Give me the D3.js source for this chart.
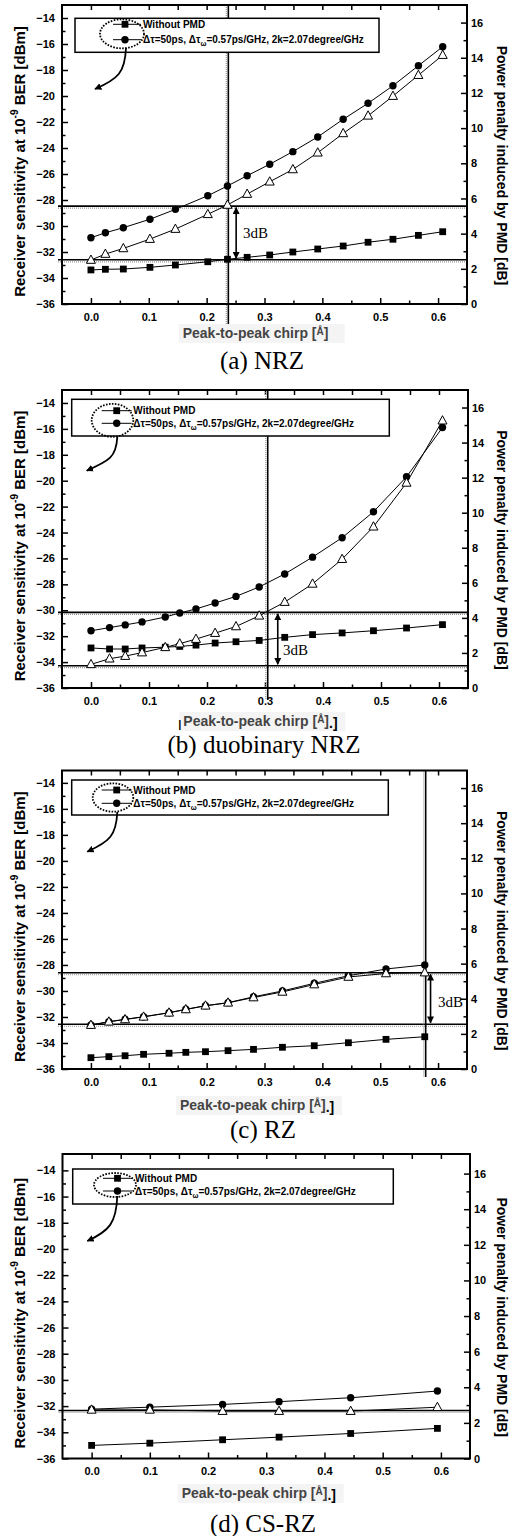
<!DOCTYPE html>
<html>
<head>
<meta charset="utf-8">
<script src="https://cdn.jsdelivr.net/npm/d3@7"></script>
<style>
    body { margin: 0; background: #fff; }
    svg { display: block; }
</style>
</head>
<body>
<svg id="chart" width="512" height="1536"></svg>
<script>
"use strict"

// ---- data ----
// (a) NRZ
const chirpA = [0, 0.025, 0.056, 0.102, 0.146, 0.202, 0.236, 0.270, 0.309, 0.349, 0.392, 0.436, 0.479, 0.522, 0.566, 0.608]
const noPmdA = [-33.38, -33.33, -33.31, -33.18, -33.0, -32.75, -32.56, -32.41, -32.23, -32.0, -31.77, -31.54, -31.25, -31.02, -30.72, -30.44]
const pmdA = [-30.9, -30.52, -30.13, -29.48, -28.72, -27.67, -26.92, -26.13, -25.25, -24.28, -23.15, -21.79, -20.56, -19.21, -17.67, -16.21]
const penaltyA = [2.5, 2.84, 3.16, 3.69, 4.26, 5.1, 5.63, 6.25, 6.95, 7.65, 8.6, 9.7, 10.7, 11.82, 13.01, 14.15]
const levelsA = [-28.47, -32.6]
const markA = 0.2375
const arrowA = { chirp: 0.251, from: -28.47, to: -32.6 }

// (b) duobinary NRZ
const chirpB = [0, 0.032, 0.059, 0.088, 0.128, 0.153, 0.181, 0.214, 0.250, 0.290, 0.334, 0.382, 0.433, 0.487, 0.544, 0.606]
const noPmdB = [-32.91, -32.99, -32.99, -32.91, -32.85, -32.79, -32.69, -32.53, -32.43, -32.33, -32.09, -31.88, -31.75, -31.58, -31.37, -31.11]
const pmdB = [-31.58, -31.34, -31.13, -30.9, -30.52, -30.21, -29.9, -29.44, -28.93, -28.2, -27.2, -25.9, -24.4, -22.4, -19.7, -15.9]
const penaltyB = [1.35, 1.67, 1.82, 2.02, 2.32, 2.53, 2.79, 3.13, 3.51, 4.12, 4.9, 5.94, 7.35, 9.2, 11.7, 15.25]
const levelsB = [-30.16, -34.28]
const markB = 0.3047
const arrowB = { chirp: 0.322, from: -30.16, to: -34.28 }

// (c) RZ
const chirpC = [0, 0.031, 0.059, 0.091, 0.135, 0.164, 0.198, 0.237, 0.281, 0.331, 0.386, 0.445, 0.510, 0.577]
const noPmdC = [-35.13, -35.05, -34.98, -34.87, -34.79, -34.72, -34.67, -34.59, -34.49, -34.33, -34.21, -33.98, -33.72, -33.52]
const pmdC = [-32.62, -32.36, -32.18, -31.98, -31.67, -31.41, -31.13, -30.9, -30.45, -30.0, -29.41, -28.83, -28.31, -28.0]
const penaltyC = [2.5, 2.69, 2.82, 2.97, 3.2, 3.39, 3.6, 3.77, 4.07, 4.39, 4.81, 5.24, 5.44, 5.49]
const levelsC = [-28.6, -32.56]
const markC = 0.5786
const arrowC = { chirp: 0.587, from: -28.6, to: -32.56 }

// (d) CS-RZ
const chirpD = [0, 0.10, 0.225, 0.322, 0.445, 0.594]
const noPmdD = [-35.0, -34.83, -34.57, -34.37, -34.09, -33.7]
const pmdD = [-32.23, -32.08, -31.87, -31.66, -31.36, -30.85]
const penaltyD = [2.73, 2.73, 2.66, 2.66, 2.66, 2.88]
const levelsD = [-32.33]

// ---- axes ----
const chirpDomain = [-0.05, 0.65]
const chirpTicks = [0, 0.1, 0.2, 0.3, 0.4, 0.5, 0.6]
const chirpMinor = [0.05, 0.15, 0.25, 0.35, 0.45, 0.55]
const sensTicks = [-36, -34, -32, -30, -28, -26, -24, -22, -20, -18, -16, -14]
const sensMinor = [-35, -33, -31, -29, -27, -25, -23, -21, -19, -17, -15]
const penaltyTicks = [0, 2, 4, 6, 8, 10, 12, 14, 16]
const penaltyMinor = [1, 3, 5, 7, 9, 11, 13, 15]

const legendLabels = ["Without PMD", "Δτ=50ps, Δτ", "ω", "=0.57ps/GHz, 2k=2.07degree/GHz"]
const yTitle = ["Receiver sensitivity at 10", "-9", " BER [dBm]"]
const rTitle = "Power penalty induced by PMD [dB]"
const xTitle = ["Peak-to-peak chirp [", "Å", "]"]

const SANS = '"Liberation Sans", Arial, sans-serif'
const SERIF = '"Liberation Serif", "Times New Roman", serif'

const panels = [
    {
        caption: "(a) NRZ", chirp: chirpA, noPmd: noPmdA, pmd: pmdA, penalty: penaltyA,
        levels: levelsA, mark: markA, arrow: arrowA, tail: "",
        box: { top: 5, bottom: 304, left: 62, right: 467, yTop: -13, pTop: 17 },
        legend: { x: 75, y: 18.3, w: 304, h: 34, l0: 113, l1: 141, m: 125, r1: 24.3, r2: 39.7, tx: 143 },
        ring: { cx: 122, cy: 33.8, rx: 22, ry: 14.5 }, curl: [[126, 48], [95, 89]],
        drop: 28, xlab: { x: 182.7, y: 338 }, cap: { x: 262, y: 369 }, db: { x: 243, y: 238 }
    },
    {
        caption: "(b) duobinary NRZ", chirp: chirpB, noPmd: noPmdB, pmd: pmdB, penalty: penaltyB,
        levels: levelsB, mark: markB, arrow: arrowB, tail: ".]", lead: true,
        box: { top: 390, bottom: 688, left: 62, right: 468, yTop: -13, pTop: 17 },
        legend: { x: 71.7, y: 399.3, w: 317.6, h: 36.7, l0: 101.7, l1: 131.7, m: 116.7, r1: 410.7, r2: 423.3, tx: 133.3 },
        ring: { cx: 112.5, cy: 420.3, rx: 20.8, ry: 16.5 }, curl: [[117.3, 437], [86.7, 470.7]],
        drop: 12, xlab: { x: 183.3, y: 726 }, cap: { x: 264, y: 753 }, db: { x: 283, y: 655 }
    },
    {
        caption: "(c) RZ", chirp: chirpC, noPmd: noPmdC, pmd: pmdC, penalty: penaltyC,
        levels: levelsC, mark: markC, arrow: arrowC, tail: ".]",
        box: { top: 770.5, bottom: 1069, left: 62, right: 467, yTop: -13.05, pTop: 17 },
        legend: { x: 71.7, y: 780, w: 316.6, h: 35, l0: 101.7, l1: 131.7, m: 116.7, r1: 790, r2: 803.3, tx: 133.3 },
        ring: { cx: 113, cy: 797.5, rx: 20.3, ry: 14.2 }, curl: [[117.3, 812], [87.3, 851.7]],
        drop: 8, xlab: { x: 180, y: 1110 }, cap: { x: 263, y: 1138 }, db: { x: 438, y: 1007 }
    },
    {
        caption: "(d) CS-RZ", chirp: chirpD, noPmd: noPmdD, pmd: pmdD, penalty: penaltyD,
        levels: levelsD, mark: null, arrow: null, tail: ".]",
        box: { top: 1154, bottom: 1458.5, left: 62.5, right: 470, yTop: -12.75, pTop: 17.1 },
        legend: { x: 72.7, y: 1169, w: 320.6, h: 35, l0: 103, l1: 132, m: 117.5, r1: 1178.3, r2: 1191, tx: 135 },
        ring: { cx: 115, cy: 1185, rx: 21, ry: 12 }, curl: [[117.3, 1196], [87.3, 1241]],
        drop: 0, xlab: { x: 181.7, y: 1498 }, cap: { x: 263, y: 1532 }, db: null
    }
]

const svg = d3.select("#chart")

const defs = svg.append("defs")
defs.append("marker")
    .attr("id", "head")
    .attr("viewBox", "0 0 10 10")
    .attr("refX", 9).attr("refY", 5)
    .attr("markerWidth", 7).attr("markerHeight", 7)
    .attr("markerUnits", "userSpaceOnUse")
    .attr("orient", "auto-start-reverse")
    .append("path")
    .attr("d", "M0,0 L10,5 L0,10 Z")
    .attr("fill", "#000")

const trianglePath = "M0,-5 L4.5,3.3 L-4.5,3.3 Z"

function drawMarkers(g, pts, kind) {
    if (kind === "square") {
        g.selectAll(null).data(pts).enter().append("rect")
            .attr("x", d => d[0] - 3.4).attr("y", d => d[1] - 3.4)
            .attr("width", 6.8).attr("height", 6.8)
            .attr("fill", "#000")
    } else if (kind === "circle") {
        g.selectAll(null).data(pts).enter().append("circle")
            .attr("cx", d => d[0]).attr("cy", d => d[1]).attr("r", 3.7)
            .attr("fill", "#000")
    } else {
        g.selectAll(null).data(pts).enter().append("path")
            .attr("d", trianglePath)
            .attr("transform", d => `translate(${d[0]},${d[1]})`)
            .attr("fill", "#fff").attr("stroke", "#000").attr("stroke-width", 1)
    }
}

function drawPanel(p) {
    const B = p.box
    const g = svg.append("g")
    const x = d3.scaleLinear().domain(chirpDomain).range([B.left, B.right])
    const y = d3.scaleLinear().domain([-36, B.yTop]).range([B.bottom, B.top])
    const yR = d3.scaleLinear().domain([0, B.pTop]).range([B.bottom, B.top])

    const tickText = sel => sel.selectAll("text")
        .attr("font-family", SANS).attr("font-weight", "bold").attr("font-size", 11).attr("fill", "#000")
    const clean = sel => { sel.select(".domain").remove(); sel.selectAll("line").attr("stroke-width", 1.5) }

    // major + minor ticks on all four sides, pointing inwards
    g.append("g").attr("transform", `translate(0,${B.bottom})`)
        .call(d3.axisBottom(x).tickValues(chirpTicks).tickFormat(d3.format(".1f"))
            .tickSize(-6).tickSizeOuter(0).tickPadding(9))
        .call(clean).call(tickText)
    g.append("g").attr("transform", `translate(0,${B.bottom})`)
        .call(d3.axisBottom(x).tickValues(chirpMinor).tickFormat("").tickSize(-3.5).tickSizeOuter(0))
        .call(clean)
    g.append("g").attr("transform", `translate(0,${B.top})`)
        .call(d3.axisTop(x).tickValues(chirpTicks.concat(chirpMinor)).tickFormat("").tickSize(-5).tickSizeOuter(0))
        .call(clean)
    g.append("g").attr("transform", `translate(${B.left},0)`)
        .call(d3.axisLeft(y).tickValues(sensTicks).tickFormat(d3.format("d"))
            .tickSize(-6).tickSizeOuter(0).tickPadding(7))
        .call(clean).call(tickText)
    g.append("g").attr("transform", `translate(${B.left},0)`)
        .call(d3.axisLeft(y).tickValues(sensMinor).tickFormat("").tickSize(-3.5).tickSizeOuter(0))
        .call(clean)
    g.append("g").attr("transform", `translate(${B.right},0)`)
        .call(d3.axisRight(yR).tickValues(penaltyTicks).tickFormat(d3.format("d"))
            .tickSize(-6).tickSizeOuter(0).tickPadding(4))
        .call(clean).call(tickText)
    g.append("g").attr("transform", `translate(${B.right},0)`)
        .call(d3.axisRight(yR).tickValues(penaltyMinor).tickFormat("").tickSize(-3.5).tickSizeOuter(0))
        .call(clean)

    // reference lines (black with a grey dotted shadow, as in the scan)
    p.levels.forEach(v => {
        g.append("line")
            .attr("x1", B.left - 4).attr("x2", B.right)
            .attr("y1", y(v) + 2).attr("y2", y(v) + 2)
            .attr("stroke", "#999").attr("stroke-width", 1.2).attr("stroke-dasharray", "1,1")
        g.append("line")
            .attr("x1", B.left - 4).attr("x2", B.right)
            .attr("y1", y(v)).attr("y2", y(v))
            .attr("stroke", "#000").attr("stroke-width", 1.6)
    })
    if (p.mark !== null) {
        g.append("line")
            .attr("x1", x(p.mark) - 2).attr("x2", x(p.mark) - 2)
            .attr("y1", B.top).attr("y2", B.bottom + p.drop)
            .attr("stroke", "#999").attr("stroke-width", 1.2).attr("stroke-dasharray", "1,1")
        g.append("line")
            .attr("x1", x(p.mark)).attr("x2", x(p.mark))
            .attr("y1", B.top).attr("y2", B.bottom + p.drop)
            .attr("stroke", "#000").attr("stroke-width", 1.6)
    }
    if (p.arrow) {
        g.append("line")
            .attr("x1", x(p.arrow.chirp)).attr("x2", x(p.arrow.chirp))
            .attr("y1", y(p.arrow.from) + 1.5).attr("y2", y(p.arrow.to) - 1.5)
            .attr("stroke", "#000").attr("stroke-width", 1.6)
            .attr("marker-start", "url(#head)").attr("marker-end", "url(#head)")
        g.append("text")
            .attr("x", p.db.x).attr("y", p.db.y)
            .attr("font-family", SERIF).attr("font-size", 15).attr("fill", "#000")
            .text("3dB")
    }

    // series
    const ptsNo = p.chirp.map((c, i) => [x(c), y(p.noPmd[i])])
    const ptsPmd = p.chirp.map((c, i) => [x(c), y(p.pmd[i])])
    const ptsPen = p.chirp.map((c, i) => [x(c), yR(p.penalty[i])])
    const line = d3.line()
    for (const pts of [ptsNo, ptsPmd, ptsPen]) {
        g.append("path").attr("d", line(pts))
            .attr("fill", "none").attr("stroke", "#000").attr("stroke-width", 1)
    }
    drawMarkers(g, ptsNo, "square")
    drawMarkers(g, ptsPmd, "circle")
    drawMarkers(g, ptsPen, "triangle")

    // frame
    g.append("rect")
        .attr("x", B.left).attr("y", B.top)
        .attr("width", B.right - B.left).attr("height", B.bottom - B.top)
        .attr("fill", "none").attr("stroke", "#000").attr("stroke-width", 2)

    // legend
    const lg = p.legend
    g.append("rect")
        .attr("x", lg.x).attr("y", lg.y).attr("width", lg.w).attr("height", lg.h)
        .attr("fill", "#fff").attr("stroke", "#000").attr("stroke-width", 1.5)
    for (const [row, kind] of [[lg.r1, "square"], [lg.r2, "circle"]]) {
        g.append("line").attr("x1", lg.l0).attr("x2", lg.l1).attr("y1", row).attr("y2", row)
            .attr("stroke", "#000").attr("stroke-width", 1)
        drawMarkers(g, [[lg.m, row]], kind)
    }
    const legText = (row) => g.append("text")
        .attr("x", lg.tx).attr("y", row + 3.5)
        .attr("font-family", SANS).attr("font-weight", "bold").attr("font-size", 10).attr("fill", "#000")
    legText(lg.r1).text(legendLabels[0])
    const t2 = legText(lg.r2)
    t2.append("tspan").text(legendLabels[1])
    t2.append("tspan").attr("font-size", 7).attr("dy", 3).text(legendLabels[2])
    t2.append("tspan").attr("dy", -3).text(legendLabels[3])

    const r = p.ring
    g.append("ellipse")
        .attr("cx", r.cx).attr("cy", r.cy).attr("rx", r.rx).attr("ry", r.ry)
        .attr("fill", "none").attr("stroke", "#000").attr("stroke-width", 1.8)
        .attr("stroke-dasharray", "1.6,1.4")
    const [s, e] = p.curl
    g.append("path")
        .attr("d", `M${s[0]},${s[1]} C${s[0] - 1},${s[1] + (e[1] - s[1]) * 0.6} ${s[0] - 8},${e[1] - 10} ${e[0]},${e[1]}`)
        .attr("fill", "none").attr("stroke", "#000").attr("stroke-width", 1.8)
        .attr("marker-end", "url(#head)")

    // axis titles
    const cy = (B.top + B.bottom) / 2
    const lt = g.append("text")
        .attr("transform", `translate(25,${cy + 7}) rotate(-90)`)
        .attr("text-anchor", "middle")
        .attr("font-family", SANS).attr("font-weight", "bold").attr("font-size", 15).attr("fill", "#000")
    lt.append("tspan").text(yTitle[0])
    lt.append("tspan").attr("font-size", 10).attr("dy", -7).text(yTitle[1])
    lt.append("tspan").attr("dy", 7).text(yTitle[2])
    g.append("text")
        .attr("transform", `translate(497,${cy + 11}) rotate(90)`)
        .attr("text-anchor", "middle")
        .attr("font-family", SANS).attr("font-weight", "bold").attr("font-size", 14).attr("fill", "#000")
        .text(rTitle)

    g.append("rect")
        .attr("x", p.xlab.x - 4).attr("y", p.xlab.y - 14).attr("width", 166).attr("height", 19)
        .attr("fill", "#f4f4f4")
    if (p.lead) {
        g.append("text").attr("x", p.xlab.x - 5).attr("y", p.xlab.y + 2)
            .attr("font-family", SANS).attr("font-weight", "bold").attr("font-size", 11).attr("fill", "#000")
            .text("|")
    }
    const xt = g.append("text")
        .attr("x", p.xlab.x).attr("y", p.xlab.y)
        .attr("font-family", SANS).attr("font-weight", "bold").attr("font-size", 14).attr("fill", "#444")
    xt.append("tspan").text(xTitle[0])
    xt.append("tspan").attr("font-size", 10).attr("dy", -3).text(xTitle[1])
    xt.append("tspan").attr("dy", 3).text(xTitle[2])
    if (p.tail) {
        xt.append("tspan").attr("fill", "#000").attr("dy", 2).text(p.tail)
    }

    g.append("text")
        .attr("x", p.cap.x).attr("y", p.cap.y)
        .attr("text-anchor", "middle")
        .attr("font-family", SERIF).attr("font-size", 25).attr("fill", "#000")
        .text(p.caption)
}

panels.forEach(drawPanel)
</script>
</body>
</html>
